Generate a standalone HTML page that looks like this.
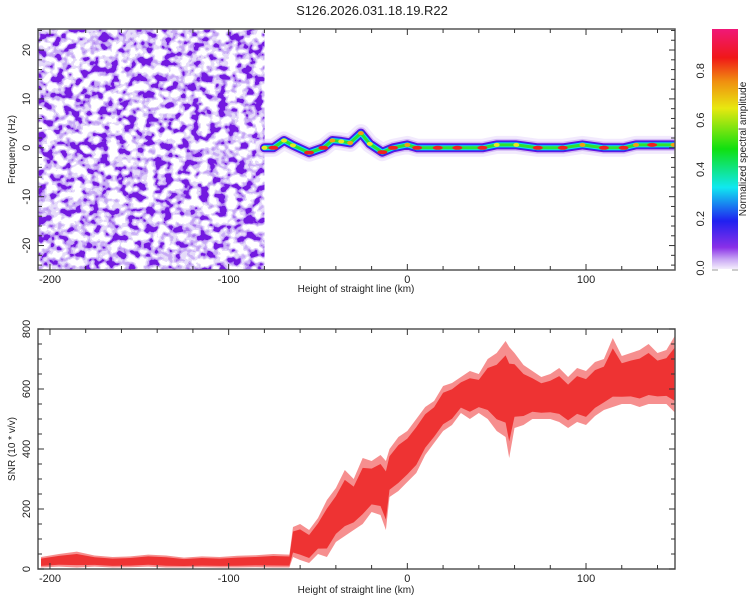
<!DOCTYPE html>
<html><head><meta charset="utf-8"><style>
body{margin:0;background:#fff;font-family:"Liberation Sans",sans-serif}
svg text{font-family:"Liberation Sans",sans-serif;fill:#222}
</style></head><body>
<svg id="c" width="750" height="600" xmlns="http://www.w3.org/2000/svg">
<defs>
<filter id="noise" x="0" y="0" width="100%" height="100%" color-interpolation-filters="sRGB">
<feTurbulence type="fractalNoise" baseFrequency="0.11 0.12" numOctaves="2" seed="11"/>
<feColorMatrix type="matrix" values="3.2 0 0 0 -1.1  3.2 0 0 0 -1.1  3.2 0 0 0 -1.1  3.2 0 0 0 -1.1"/>
<feComponentTransfer>
<feFuncR type="discrete" tableValues="1 1 0.9 0.9 0.8 0.78 0.66 0.45"/>
<feFuncG type="discrete" tableValues="1 1 0.86 0.86 0.7 0.66 0.46 0.1"/>
<feFuncB type="discrete" tableValues="1 1 0.98 0.98 0.97 0.96 0.94 0.88"/>
<feFuncA type="discrete" tableValues="0 0 1 1 1 1 1 1"/>
</feComponentTransfer>
</filter>
<linearGradient id="cbar" x1="0" y1="1" x2="0" y2="0">
<stop offset="0" stop-color="#f4eefc"/><stop offset="0.04" stop-color="#c9a8f4"/>
<stop offset="0.09" stop-color="#8a30e8"/><stop offset="0.2" stop-color="#2020f0"/>
<stop offset="0.34" stop-color="#10e8f0"/><stop offset="0.5" stop-color="#10e010"/>
<stop offset="0.67" stop-color="#e8e810"/><stop offset="0.78" stop-color="#f09010"/>
<stop offset="0.88" stop-color="#f01818"/><stop offset="1" stop-color="#f01878"/>
</linearGradient>
<clipPath id="clipTop"><rect x="38" y="29" width="637" height="241"/></clipPath>
<clipPath id="clipBot"><rect x="38" y="329" width="637" height="240"/></clipPath>
</defs>
<text x="372" y="15" font-size="13" text-anchor="middle">S126.2026.031.18.19.R22</text>
<g id="topg"></g><g id="botg"></g><g id="cbg"></g>
</svg>
<script>
// ---- data ----
const ridgeHeights=[-80,-75,-69,-64,-55,-47,-42,-37,-32,-26,-21,-14,-8,0,5.5,17,28,42,50,61,73,87,98,110,121,128,137,149];
const ridgeFreqs=[0,0,1.5,0.5,-1,0,1.5,1.3,1,3,0.8,-0.9,0,0.6,0,0,0,0,0.6,0.6,0,0,0.6,0,0,0.6,0.6,0.6];
const ridgeAmps=[0.3,0.85,0.7,0.7,0.9,0.85,0.75,0.7,0.75,0.8,0.7,0.9,0.85,0.75,0.85,0.95,0.95,0.9,0.7,0.7,0.9,0.9,0.75,0.9,0.85,0.75,0.9,0.8];
const snrHeights=[-205,-195,-185,-175,-165,-155,-145,-135,-125,-115,-105,-95,-85,-75,-66,-64,-60,-55,-50,-45,-40,-35,-30,-25,-20,-15,-12,-10,-5,0,5,10,15,20,25,30,35,40,45,50,55,57,60,65,70,75,80,85,90,95,100,105,110,115,120,125,130,135,140,145,150];
const snrLow=[5,8,5,8,5,6,8,5,5,6,5,5,6,5,5,40,30,20,50,40,90,110,130,150,190,180,130,240,260,290,320,380,420,460,480,520,500,520,500,460,440,370,470,480,500,500,500,490,470,490,480,510,530,540,550,550,540,550,550,550,520];
const snrHigh=[40,50,58,45,40,42,48,45,38,42,40,44,46,50,48,140,150,130,170,230,270,330,300,370,360,380,360,400,440,460,500,540,560,610,620,640,660,650,700,720,760,740,720,680,660,640,650,670,640,670,660,690,700,770,710,720,730,750,720,730,780];
const xTicks=[-200,-100,0,100];
const yTicksTop=[20,10,0,-10,-20];
const yTicksBot=[0,200,400,600,800];
const cbTicks=[0.0,0.2,0.4,0.6,0.8];

// ---- axes ----
const X0=38,X1=675,xmin=-206.7,xmax=149.8;
const xs=v=>X0+(v-xmin)/(xmax-xmin)*(X1-X0);
const yTop=v=>29+(24.3-v)/(24.3+25)*241;
const yBot=v=>569-v*0.3;
const NS='http://www.w3.org/2000/svg';
function mk(tag,attrs,parent){const e=document.createElementNS(NS,tag);for(const k in attrs)e.setAttribute(k,attrs[k]);parent.appendChild(e);return e;}
const gTop=document.getElementById('topg'),gBot=document.getElementById('botg'),gCb=document.getElementById('cbg');

// noise region (texture)
const nz=mk('rect',{x:38,y:29,width:xs(-80)-38,height:241,filter:'url(#noise)'},gTop);



// ridge
const rg=mk('g',{'clip-path':'url(#clipTop)'},gTop);


const d=ridgeHeights.map((h,i)=>(i?'L':'M')+xs(h).toFixed(1)+','+yTop(ridgeFreqs[i]).toFixed(1)).join(' ');
[[18,'#eadcfb',0.6],[12,'#c8a6f2',0.7],[9,'#6a10e0',1],[7,'#2030f0',1],[5,'#10e0f0',1],[3,'#30e030',1]].forEach(s=>{
  mk('path',{d:d,fill:'none',stroke:s[1],'stroke-width':s[0],'stroke-opacity':s[2],'stroke-linejoin':'round','stroke-linecap':'round'},rg);
});
ridgeHeights.forEach((h,i)=>{
  const a=ridgeAmps[i];
  const col=a>=0.85?'#f02020':(a>=0.75?'#f0a010':'#e8e820');
  const e=mk('ellipse',{cx:xs(h),cy:yTop(ridgeFreqs[i]),rx:a>=0.85?5:3,ry:2,fill:col},rg);
  
  
});

// SNR band: outer (light) + inner core
function bandPts(shrink){
  const p=[];
  snrHeights.forEach((h,i)=>{const m=(snrHigh[i]+snrLow[i])/2,r=(snrHigh[i]-snrLow[i])/2*shrink;p.push(xs(h).toFixed(1)+','+yBot(m+r).toFixed(1));});
  for(let i=snrHeights.length-1;i>=0;i--){const m=(snrHigh[i]+snrLow[i])/2,r=(snrHigh[i]-snrLow[i])/2*shrink;p.push(xs(snrHeights[i]).toFixed(1)+','+yBot(m-r).toFixed(1));}
  return p.join(' ');
}
const band=mk('polygon',{points:bandPts(1),fill:'#ee3333','fill-opacity':0.55,'clip-path':'url(#clipBot)'},gBot);


const core=mk('polygon',{points:bandPts(0.7),fill:'#ee3333','clip-path':'url(#clipBot)'},gBot);



// frames & ticks
function frame(g,y0,y1,yf,yt,xlabelY,ytitle,nm){
  const f=mk('rect',{x:X0,y:y0,width:X1-X0,height:y1-y0,fill:'none',stroke:'#555','stroke-width':1.5},g);
  
  
  for(let v=-200;v<=140;v+=20){const x=xs(v);const L=v%100===0?6:4;
    mk('line',{x1:x,y1:y1,x2:x,y2:y1-L,stroke:'#333'},g);mk('line',{x1:x,y1:y0,x2:x,y2:y0+L,stroke:'#333'},g);}
  xTicks.forEach(v=>{const t=mk('text',{x:xs(v),y:y1+13,'font-size':11,'text-anchor':'middle'},g);t.textContent=v;
    });
  const xl=mk('text',{x:356,y:xlabelY,'font-size':10,'text-anchor':'middle'},g);xl.textContent='Height of straight line (km)';
  
  yt.forEach(v=>{const y=yf(v);const t=mk('text',{x:0,y:0,'font-size':11,'text-anchor':'middle',transform:`translate(30,${y}) rotate(-90)`},g);t.textContent=v;
    });
  const yl=mk('text',{x:0,y:0,'font-size':10,'text-anchor':'middle',transform:`translate(15,${(y0+y1)/2}) rotate(-90)`},g);yl.textContent=ytitle;
  
}
frame(gTop,29,270,yTop,yTicksTop,292,'Frequency (Hz)','spectrogram');
for(let v=-24;v<=24;v+=2){const y=yTop(v);const L=v%10===0?6:4;mk('line',{x1:X0,y1:y,x2:X0+L,y2:y,stroke:'#333'},gTop);mk('line',{x1:X1,y1:y,x2:X1-L,y2:y,stroke:'#333'},gTop);}
frame(gBot,329,569,yBot,yTicksBot,593,'SNR (10 * v/v)','snr');
for(let v=0;v<=800;v+=50){const y=yBot(v);const L=v%200===0?6:4;mk('line',{x1:X0,y1:y,x2:X0+L,y2:y,stroke:'#333'},gBot);mk('line',{x1:X1,y1:y,x2:X1-L,y2:y,stroke:'#333'},gBot);}

// colorbar
const cbr=mk('rect',{x:712,y:29,width:26,height:240,fill:'url(#cbar)'},gCb);


const cy=v=>268-v*246.5;
cbTicks.forEach(v=>{const t=mk('text',{x:0,y:0,'font-size':11,'text-anchor':'middle',transform:`translate(704,${cy(v)}) rotate(-90)`},gCb);t.textContent=v.toFixed(1);
  });
mk('line',{x1:712,y1:270,x2:718,y2:270,stroke:'#999'},gCb);mk('line',{x1:732,y1:270,x2:738,y2:270,stroke:'#999'},gCb);
const ct=mk('text',{x:0,y:0,'font-size':10,'text-anchor':'middle',transform:'translate(746,149) rotate(-90)'},gCb);ct.textContent='Normalized spectral amplitude';


</script>
</body></html>
